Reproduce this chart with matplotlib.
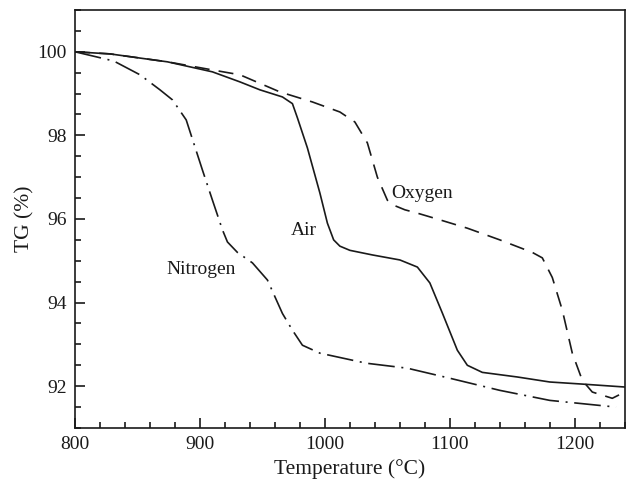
import matplotlib
matplotlib.use("Agg")
import matplotlib.pyplot as plt
from matplotlib.ticker import MultipleLocator

# TG curves (temperature in degC, mass in %)
air_t = [800, 828, 852, 874, 910, 932, 948, 966, 974, 978, 986, 996, 1002, 1007, 1012,
         1020, 1038, 1060, 1074, 1084, 1094, 1106, 1114, 1126, 1154, 1180, 1206, 1240]
air_tg = [100.0, 99.95, 99.85, 99.76, 99.52, 99.28, 99.09, 98.92, 98.76, 98.42, 97.7,
          96.62, 95.9, 95.5, 95.35, 95.25, 95.14, 95.02, 94.85, 94.47, 93.75, 92.86,
          92.5, 92.33, 92.22, 92.1, 92.05, 91.98]

oxy_t = [800, 828, 874, 913, 932, 964, 990, 1012, 1024, 1034, 1042, 1050, 1055, 1064,
         1074, 1092, 1114, 1140, 1166, 1174, 1182, 1190, 1198, 1206, 1214, 1230, 1238, 1240]
oxy_tg = [100.0, 99.95, 99.76, 99.55, 99.45, 99.04, 98.8, 98.56, 98.32, 97.82, 97.0,
          96.45, 96.33, 96.22, 96.14, 95.98, 95.78, 95.5, 95.2, 95.07, 94.6, 93.82,
          92.79, 92.14, 91.86, 91.71, 91.83, 91.9]

nit_t = [800, 817, 831, 852, 868, 878, 889, 893, 902, 910, 918, 922, 930, 942, 954,
         966, 974, 982, 996, 1033, 1066, 1100, 1140, 1180, 1233]
nit_tg = [100.0, 99.88, 99.78, 99.45, 99.09, 98.85, 98.37, 98.0, 97.17, 96.45, 95.74,
          95.45, 95.2, 94.95, 94.54, 93.74, 93.34, 92.98, 92.79, 92.55, 92.43, 92.19,
          91.9, 91.66, 91.5]

plt.rcParams["font.family"] = ["Liberation Serif", "DejaVu Serif"]
ink = "#1a1a1a"

fig = plt.figure(figsize=(6.33, 4.88), dpi=100)
ax = fig.add_axes([0.1185, 0.123, 0.8685, 0.8565])

lw = 1.2
ax.plot(air_t, air_tg, color=ink, linewidth=lw)
ax.plot(oxy_t, oxy_tg, color=ink, linewidth=lw, dashes=(9, 5.5))
ax.plot(nit_t, nit_tg, color=ink, linewidth=lw, dashes=(16, 4, 1.2, 4))

ax.text(1053, 96.62, "Oxygen", fontsize=14, color=ink, va="center", ha="left")
ax.text(973, 95.72, "Air", fontsize=14, color=ink, va="center", ha="left")
ax.text(873, 94.78, "Nitrogen", fontsize=14, color=ink, va="center", ha="left")

ax.set_xlim(800, 1240)
ax.set_ylim(91, 101)
ax.xaxis.set_major_locator(MultipleLocator(100))
ax.xaxis.set_minor_locator(MultipleLocator(20))
ax.yaxis.set_major_locator(MultipleLocator(2))
ax.yaxis.set_minor_locator(MultipleLocator(0.5))
ax.tick_params(which="both", direction="in", top=False, right=False,
               colors=ink, labelsize=14, width=1.2)
ax.tick_params(which="major", length=7, pad=6)
ax.tick_params(which="minor", length=4)
for sp in ax.spines.values():
    sp.set_linewidth(1.2)
    sp.set_color(ink)

ax.set_xlabel("Temperature (°C)", fontsize=15.5, color=ink, labelpad=4)
ax.set_ylabel("TG (%)", fontsize=15.5, color=ink, labelpad=2)

fig.savefig("out.png", dpi=100)
